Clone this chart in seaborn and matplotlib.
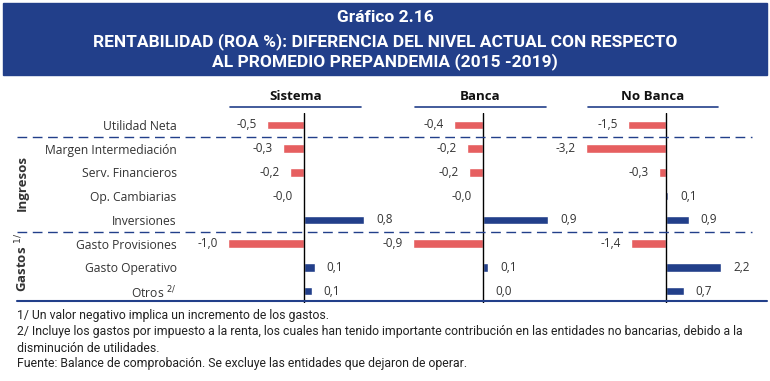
import matplotlib
matplotlib.use("Agg")
import matplotlib.pyplot as plt
import seaborn as sns
import pandas as pd
from matplotlib.patches import Rectangle
from matplotlib.lines import Line2D

# datos
categorias = ['Utilidad Neta', 'Margen Intermediación', 'Serv. Financieros', 'Op. Cambiarias',
              'Inversiones', 'Gasto Provisiones', 'Gasto Operativo', r'Otros $^{2/}$']
sistema = [-0.5, -0.28, -0.19, -0.02, 0.8, -1.01, 0.14, 0.1]
banca = [-0.39, -0.21, -0.19, -0.01, 0.87, -0.93, 0.07, 0.01]
no_banca = [-1.52, -3.2, -0.28, 0.08, 0.9, -1.4, 2.2, 0.7]
paneles = ['Sistema', 'Banca', 'No Banca']

titulo = ['Gráfico 2.16',
          'RENTABILIDAD (ROA %): DIFERENCIA DEL NIVEL ACTUAL CON RESPECTO',
          'AL PROMEDIO PREPANDEMIA (2015 -2019)']
notas = ['1/ Un valor negativo implica un incremento de los gastos.',
         '2/ Incluye los gastos por impuesto a la renta, los cuales han tenido importante contribución en las entidades no bancarias, debido a la',
         'disminución de utilidades.',
         'Fuente: Balance de comprobación. Se excluye las entidades que dejaron de operar.']

AZUL = '#223F8A'
ROJO = '#E65F60'
GRIS = '#333333'

sns.set_style('white')
plt.rcParams['font.family'] = ['Open Sans', 'DejaVu Sans']

W, H = 770, 381
fig = plt.figure(figsize=(7.7, 3.81), dpi=100)


def fx(px):
    return px / W


def fy(py):
    return 1 - py / H


# caja del titulo
fig.add_artist(Rectangle((fx(3), fy(75)), fx(764), 72 / H, transform=fig.transFigure,
                         color=AZUL, zorder=0))
for t, y in zip(titulo, [18, 42, 62]):
    fig.text(0.5, fy(y), t, ha='center', va='center', color='white', fontsize=12.5,
             fontweight='bold', family=['Roboto', 'DejaVu Sans'])

# posiciones de paneles: izquierda, derecha, cero, px por unidad, subrayado
geo = [(185, 400, 304, 75, 230, 361),
       (400, 570, 483, 75, 415, 546),
       (575, 762, 666, 25, 588, 718)]
valores = [sistema, banca, no_banca]
top, bot = 113, 303

for i, (nombre, vals, g) in enumerate(zip(paneles, valores, geo)):
    L, R, Z, S, u0, u1 = g
    ax = fig.add_axes([fx(L), fy(bot), fx(R - L), (bot - top) / H])
    df = pd.DataFrame({'cat': categorias, 'val': vals})
    df['signo'] = ['neg' if v < 0 else 'pos' for v in vals]
    sns.barplot(data=df, y='cat', x='val', hue='signo', palette={'neg': ROJO, 'pos': AZUL},
                dodge=False, width=0.36, legend=False, orient='h', saturation=1, ax=ax)
    ax.set_xlim((L - Z) / S, (R - Z) / S)
    ax.set_ylim(7.5, -0.5)
    ax.axvline(0, color='black', lw=1, zorder=3)
    ax.set_xticks([])
    ax.set_xlabel('')
    ax.set_ylabel('')
    sns.despine(ax=ax, left=True, bottom=True)
    ax.patch.set_alpha(0)
    if i == 0:
        ax.tick_params(axis='y', length=0, pad=6, labelsize=8.75, labelcolor=GRIS)
    else:
        ax.set_yticks([])
    for k, v in enumerate(vals):
        txt = f"{v:.1f}".replace('.', ',')
        if v < 0:
            ax.annotate(txt, (v, k), xytext=(-10, 0), textcoords='offset pixels',
                        ha='right', va='center', fontsize=8.5, color=GRIS)
        else:
            ax.annotate(txt, (v, k), xytext=(12, 0), textcoords='offset pixels',
                        ha='left', va='center', fontsize=8.5, color=GRIS)
    # encabezado del panel
    fig.text(fx((u0 + u1) / 2), fy(97), nombre, ha='center', va='center', fontsize=9.5,
             fontweight='bold', color='#111111')
    fig.add_artist(Line2D([fx(u0), fx(u1)], [fy(107), fy(107)], color=AZUL, lw=1.2,
                          transform=fig.transFigure))

# separadores
for y in [137, 232]:
    fig.add_artist(Line2D([fx(17), fx(752)], [fy(y), fy(y)], color=AZUL, lw=1,
                          linestyle=(0, (7, 4)), transform=fig.transFigure))
fig.add_artist(Line2D([fx(17), fx(767)], [fy(301), fy(301)], color=AZUL, lw=1.5,
                      transform=fig.transFigure))

# grupos
fig.text(fx(22), fy(183), 'Ingresos', rotation=90, ha='center', va='center',
         fontsize=9.5, fontweight='bold', color=GRIS)
fig.text(fx(22), fy(262), r'Gastos $^{1/}$', rotation=90, ha='center', va='center',
         fontsize=9.5, fontweight='bold', color=GRIS)

# notas
for t, y in zip(notas, [316, 332, 348, 364]):
    fig.text(fx(17), fy(y), t, ha='left', va='center', fontsize=8.8, color='#222222',
             family=['Roboto', 'DejaVu Sans'])

fig.savefig('out.png', dpi=100)
